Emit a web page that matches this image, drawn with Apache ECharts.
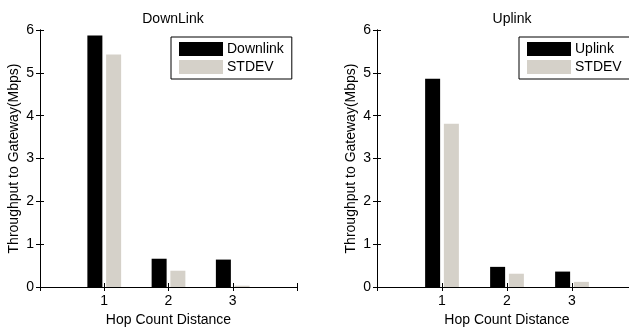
<!DOCTYPE html>
<html>
<head>
<meta charset="utf-8">
<script src="https://cdn.jsdelivr.net/npm/echarts@6/dist/echarts.min.js"></script>
<style>
  html, body { margin: 0; padding: 0; background: #fff; }
  #chart { width: 629px; height: 328px; }
</style>
</head>
<body>
<div id="chart"></div>
<script>
// hop counts and measured throughput (Mbps)
const hops = [1, 2, 3];
const downlink = [5.87, 0.66, 0.64];
const downStdev = [5.43, 0.38, 0.03];
const uplink = [4.86, 0.47, 0.36];
const upStdev = [3.81, 0.31, 0.12];

const FONT = 'Liberation Sans, Arial, Helvetica, sans-serif';
const GRAY = '#d5d1c9';

const pairs = (xs, ys) => xs.map((x, i) => [x, ys[i]]);

const chart = echarts.init(document.getElementById('chart'));

// axis helpers, MATLAB style box with inward ticks
const xAxisFor = (gridIndex, showName) => ({
  type: 'value',
  gridIndex: gridIndex,
  min: 0,
  max: 4,
  interval: 1,
  position: showName ? 'bottom' : 'top',
  name: showName ? 'Hop Count Distance' : '',
  nameLocation: 'middle',
  nameGap: 23,
  nameTextStyle: { fontFamily: FONT, fontSize: 14, color: '#000' },
  axisLine: { show: true, lineStyle: { color: '#000', width: 1 } },
  axisTick: { show: true, inside: false, length: -4, lineStyle: { color: '#000' } },
  axisLabel: {
    show: showName, margin: 7, fontFamily: FONT, fontSize: 14, color: '#000',
    formatter: v => (hops.indexOf(v) >= 0 ? String(v) : '')
  },
  splitLine: { show: false }
});

const yAxisFor = (gridIndex, showName) => ({
  type: 'value',
  gridIndex: gridIndex,
  min: 0,
  max: 6,
  interval: 1,
  position: showName ? 'left' : 'right',
  name: showName ? 'Throughput to Gateway(Mbps)' : '',
  nameLocation: 'middle',
  nameGap: 19,
  nameTextStyle: { fontFamily: FONT, fontSize: 14, color: '#000' },
  axisLine: { show: true, lineStyle: { color: '#000', width: 1 } },
  axisTick: { show: true, inside: false, length: -4, lineStyle: { color: '#000' } },
  axisLabel: { show: showName, margin: 6, fontFamily: FONT, fontSize: 14, color: '#000' },
  splitLine: { show: false }
});

const barSeries = (name, data, color, xi, yi) => ({
  name: name,
  type: 'bar',
  xAxisIndex: xi,
  yAxisIndex: yi,
  data: data,
  barWidth: 15,
  barGap: '25%',
  itemStyle: { color: color },
  silent: true
});

const legendFor = (names, left) => ({
  data: names,
  orient: 'vertical',
  left: left,
  top: 37,
  itemWidth: 44,
  itemHeight: 14,
  itemGap: 4,
  padding: [5, 8, 5, 8],
  borderColor: '#000',
  borderWidth: 1,
  backgroundColor: '#fff',
  icon: 'rect',
  textStyle: { fontFamily: FONT, fontSize: 14, color: '#000', padding: [0, 0, 0, -1] }
});

const option = {
  animation: false,
  backgroundColor: '#fff',
  title: [
    { text: 'DownLink', left: 168, top: 7, textAlign: 'center',
      textStyle: { fontFamily: FONT, fontSize: 14, fontWeight: 'normal', color: '#000' } },
    { text: 'Uplink', left: 507, top: 7, textAlign: 'center',
      textStyle: { fontFamily: FONT, fontSize: 14, fontWeight: 'normal', color: '#000' } }
  ],
  legend: [
    legendFor(['Downlink', 'STDEV'], 171),
    legendFor(['Uplink', 'STDEV '], 519)
  ],
  grid: [
    { left: 40, width: 257, top: 30, height: 257, outerBoundsMode: 'none', containLabel: false },
    { left: 377, width: 260, top: 30, height: 257, outerBoundsMode: 'none', containLabel: false }
  ],
  xAxis: [xAxisFor(0, true), xAxisFor(0, false), xAxisFor(1, true), xAxisFor(1, false)],
  yAxis: [yAxisFor(0, true), yAxisFor(0, false), yAxisFor(1, true), yAxisFor(1, false)],
  series: [
    barSeries('Downlink', pairs(hops, downlink), '#000', 0, 0),
    barSeries('STDEV', pairs(hops, downStdev), GRAY, 0, 0),
    barSeries('Uplink', pairs(hops, uplink), '#000', 2, 2),
    barSeries('STDEV ', pairs(hops, upStdev), GRAY, 2, 2)
  ]
};

chart.setOption(option);
</script>
</body>
</html>
